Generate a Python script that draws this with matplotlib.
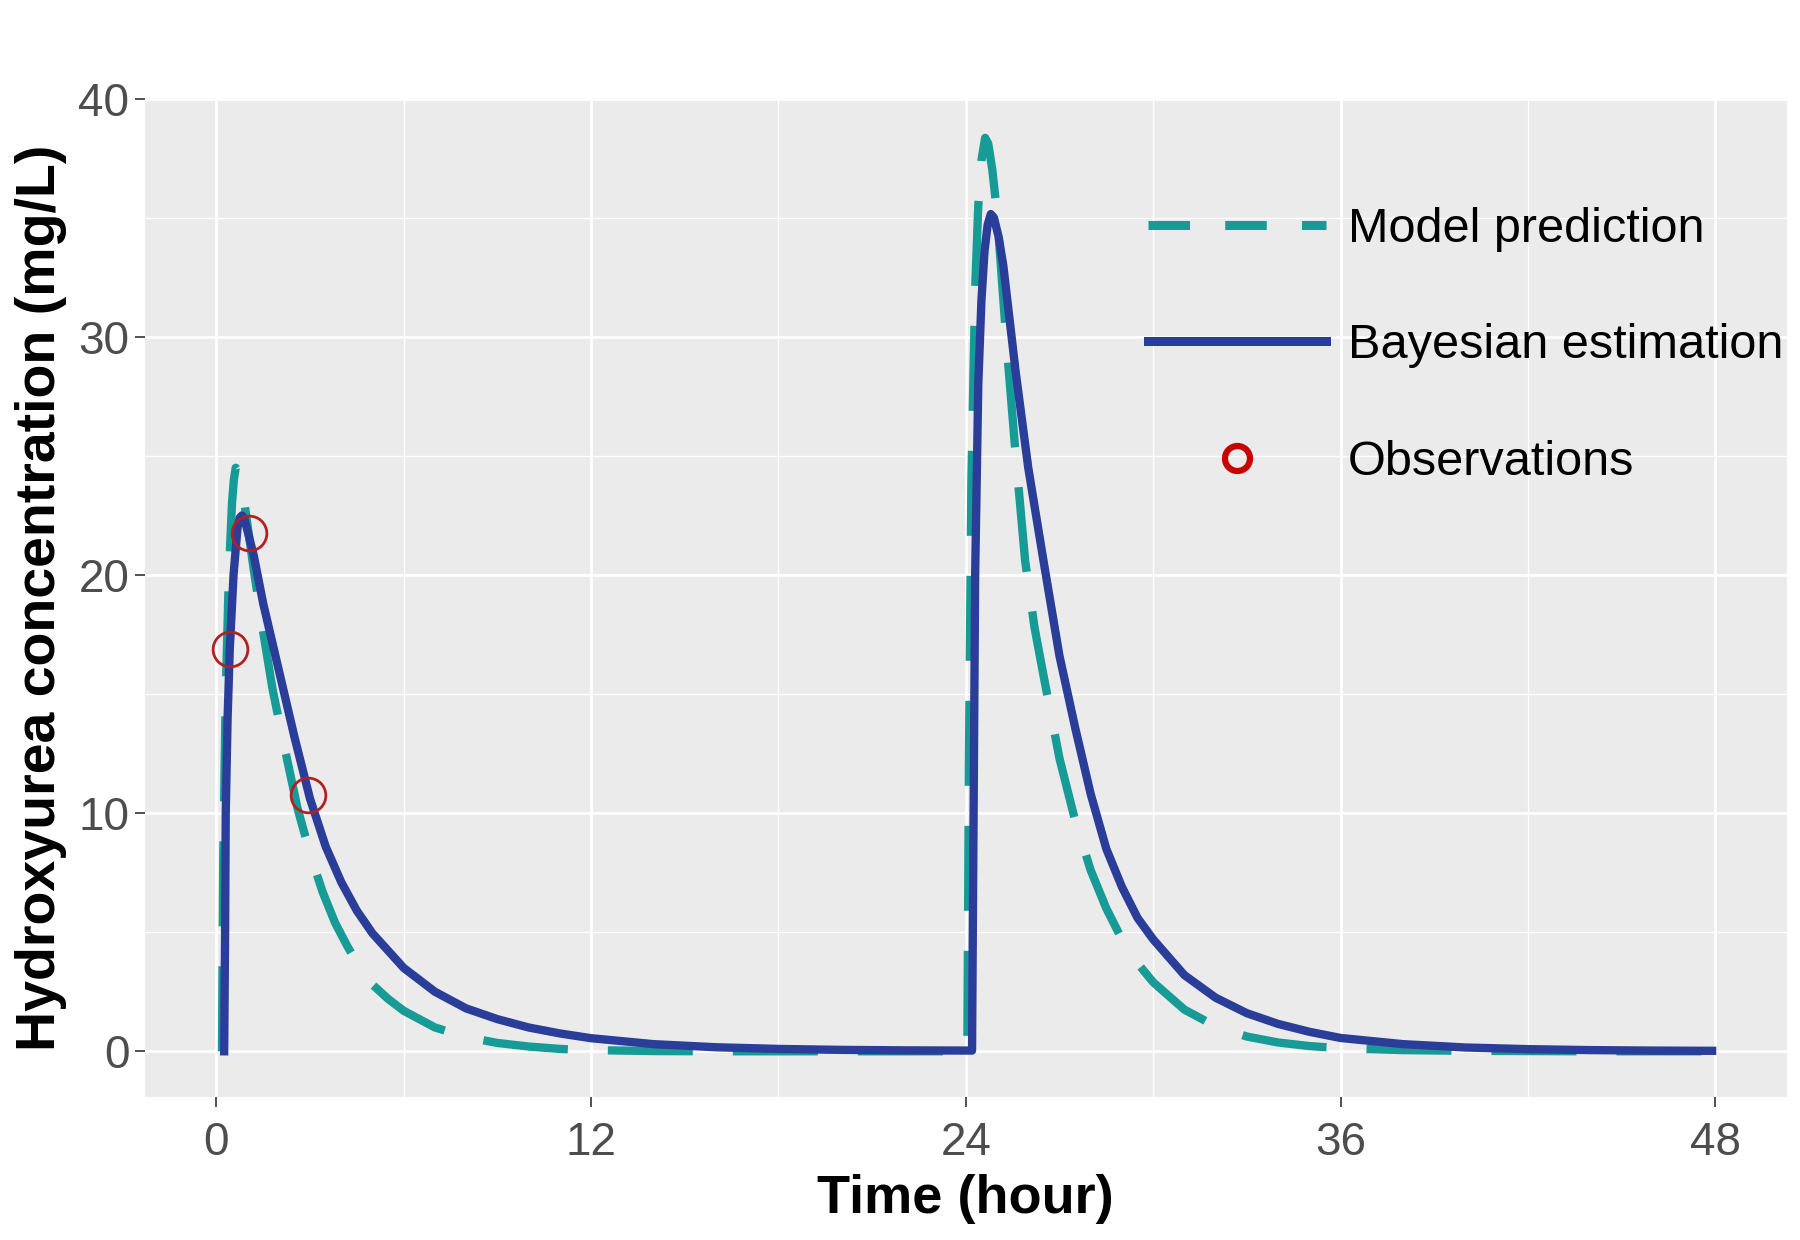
import matplotlib.pyplot as plt
from matplotlib.lines import Line2D

plt.rcParams['font.family'] = ['Liberation Sans', 'DejaVu Sans']

# model prediction (teal, dashed)
pred_t = [0.18, 0.22, 0.30, 0.40, 0.50, 0.56, 0.62, 0.70, 0.80, 0.90, 1.2, 1.5, 1.8, 2.16,
          2.6, 3.0, 3.4, 3.8, 4.2, 4.6, 5.0, 5.5, 6.0, 7.0, 8.0, 9.0, 10.0, 11.0, 12.0,
          14.0, 16.0, 20.0, 24.05, 24.10, 24.18, 24.30, 24.40, 24.50, 24.62, 24.72, 24.85,
          25.0, 25.3, 25.6, 25.9, 26.2, 26.5, 27.0, 27.5, 28.0, 28.5, 29.0, 29.5, 30.0,
          31.0, 32.0, 33.0, 34.0, 35.0, 36.0, 38.0, 40.0, 44.0, 47.9]
pred_c = [0, 8, 15, 20, 23, 24.0, 24.5, 24.35, 23.8, 23.0, 20.2, 17.6, 15.2, 12.9,
          10.2, 8.3, 6.7, 5.4, 4.4, 3.5, 2.8, 2.2, 1.7, 1.0, 0.6, 0.35, 0.2, 0.1, 0.05,
          0.01, 0, 0, 0, 12, 24, 32, 35.5, 37.4, 38.35, 38.1, 37.0,
          35.2, 29.8, 25.0, 20.6, 17.8, 15.7, 12.3, 9.7, 7.6, 6.0, 4.7, 3.7, 2.9,
          1.75, 1.05, 0.62, 0.37, 0.22, 0.13, 0.05, 0.02, 0, 0]

# bayesian estimation (blue, solid)
bayes_t = [0.25, 0.28, 0.30, 0.36, 0.43, 0.55, 0.68, 0.75, 0.82, 0.90, 1.2, 1.5, 2.0, 2.5,
           3.0, 3.5, 4.0, 4.5, 5.0, 6.0, 7.0, 8.0, 9.0, 10.0, 11.0, 12.0, 14.0, 16.0, 18.0,
           20.0, 22.0, 24.2, 24.25, 24.30, 24.40, 24.50, 24.60, 24.70, 24.80, 24.90, 25.05,
           25.2, 25.6, 26.0, 26.5, 27.0, 27.5, 28.0, 28.5, 29.0, 29.5, 30.0, 31.0, 32.0,
           33.0, 34.0, 35.0, 36.0, 38.0, 40.0, 42.0, 44.0, 46.0, 47.9]
bayes_c = [0, 5, 10, 14, 16.9, 20, 22, 22.4, 22.5, 22.35, 20.8, 18.8, 16.0, 13.2,
           10.6, 8.6, 7.1, 5.9, 4.95, 3.5, 2.5, 1.8, 1.35, 1.0, 0.75, 0.55, 0.3, 0.17, 0.1,
           0.06, 0.04, 0.03, 10, 20, 28, 31.5, 33.6, 34.7, 35.15, 35.0, 34.2,
           33.0, 28.5, 24.5, 20.5, 16.6, 13.6, 10.8, 8.5, 6.9, 5.6, 4.7, 3.2, 2.25,
           1.6, 1.15, 0.82, 0.56, 0.3, 0.16, 0.09, 0.05, 0.03, 0.02]

# observed concentrations
obs_t = [0.43, 1.05, 2.95]
obs_c = [16.9, 21.75, 10.75]

x_ticks = [0, 12, 24, 36, 48]
x_minor = [6, 18, 30, 42]
y_ticks = [0, 10, 20, 30, 40]
y_minor = [5, 15, 25, 35]
labels = ['Model prediction', 'Bayesian estimation', 'Observations']

teal = '#179B96'
blue = '#2A3D98'
red = '#B42020'

fig = plt.figure(figsize=(18, 12.4), dpi=100)
ax = fig.add_axes([0.0803, 0.1153, 0.9125, 0.8056])
ax.set_facecolor('#EBEBEB')

for v in x_minor:
    ax.axvline(v, color='white', lw=1.0, zorder=0)
for v in y_minor:
    ax.axhline(v, color='white', lw=1.0, zorder=0)
for v in x_ticks:
    ax.axvline(v, color='white', lw=2.0, zorder=0)
for v in y_ticks:
    ax.axhline(v, color='white', lw=2.0, zorder=0)

ax.plot(pred_t, pred_c, color=teal, lw=6, linestyle=(0, (10.2, 4.8)), zorder=2)
ax.plot(bayes_t, bayes_c, color=blue, lw=6, zorder=3)
ax.plot(obs_t, obs_c, linestyle='none', marker='o', markersize=25, markerfacecolor='none',
        markeredgecolor=red, markeredgewidth=2.0, zorder=4)

ax.set_xlim(-2.3, 50.3)
ax.set_ylim(-1.92, 40.02)
ax.set_xticks(x_ticks)
ax.set_yticks(y_ticks)
ax.tick_params(axis='both', labelsize=33, labelcolor='#4D4D4D', color='#333333',
               length=7, width=1.2)
ax.tick_params(axis='x', pad=10)
ax.tick_params(axis='y', pad=4)
for s in ax.spines.values():
    s.set_visible(False)

ax.set_xlabel('Time (hour)', fontsize=39, fontweight='bold', labelpad=7)
ax.set_ylabel('Hydroxyurea concentration (mg/L)', fontsize=40, fontweight='bold', labelpad=8)

# legend with its own key styles
h1 = Line2D([], [], color=teal, lw=6.5, linestyle=(0, (4.6, 3.9)))
h2 = Line2D([], [], color=blue, lw=6.5)
h3 = Line2D([], [], linestyle='none', marker='o', markersize=18, markerfacecolor='none',
            markeredgecolor='#C80000', markeredgewidth=4.5)
ax.legend([h1, h2, h3], labels, loc='upper left', bbox_to_anchor=(0.611, 0.891),
          frameon=False, fontsize=35, handlelength=3.66, handletextpad=0.45,
          labelspacing=1.47, borderpad=0, borderaxespad=0)

fig.savefig('out.png', dpi=100)
